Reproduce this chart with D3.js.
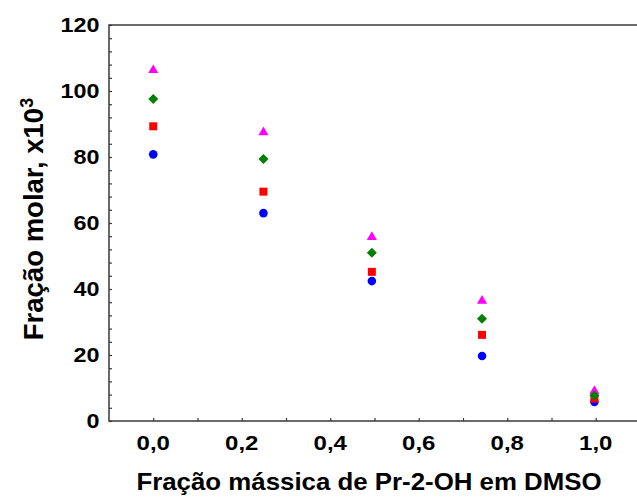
<!DOCTYPE html>
<html><head><meta charset="utf-8">
<script src="https://cdn.jsdelivr.net/npm/d3@7"></script>
<style>body{margin:0;background:#fff}svg{display:block}text{font-family:"Liberation Sans",Arial,sans-serif;font-weight:bold;fill:#000}</style>
</head><body><svg id="c" width="637" height="500"></svg>
<script>
const xValues = [0, 0.249, 0.494, 0.743, 0.997];
const seriesCircle = [80.8, 63.0, 42.4, 19.7, 5.8];
const seriesSquare = [89.3, 69.5, 45.2, 26.1, 6.8];
const seriesDiamond = [97.6, 79.4, 51.0, 31.0, 7.7];
const seriesTriangle = [106.3, 87.5, 55.7, 36.4, 9.1];
const xTickLabels = [0, 0.2, 0.4, 0.6, 0.8, 1.0];
const yTickLabels = [0, 20, 40, 60, 80, 100, 120];

const svg = d3.select("#c");
const x = d3.scaleLinear().domain([-0.1, 1.1]).range([109, 640]);
const y = d3.scaleLinear().domain([0, 120]).range([421, 25]);

// frame
svg.append("rect").attr("x", x(-0.1)).attr("y", y(120)).attr("width", x(1.1) - x(-0.1)).attr("height", y(0) - y(120))
  .attr("fill", "none").attr("stroke", "#3a3a3a").attr("stroke-width", 1.5);

// ticks
const xt = d3.range(0, 11).map(i => i / 10);
svg.append("g").attr("transform", `translate(0,${y(0)})`)
  .call(d3.axisBottom(x).tickValues(xt).tickSize(-3).tickFormat(""))
  .call(g => { g.select(".domain").remove(); g.selectAll("line").attr("stroke", "#3a3a3a").attr("stroke-width", 1.2); });
const yt = d3.range(0, 31).map(i => i * 4);
svg.append("g").attr("transform", `translate(${x(-0.1)},0)`)
  .call(d3.axisLeft(y).tickValues(yt).tickSize(-3).tickFormat(""))
  .call(g => { g.select(".domain").remove(); g.selectAll("line").attr("stroke", "#3a3a3a").attr("stroke-width", 1.2); });

const fmt = v => d3.format(".1f")(v).replace(".", ",");
// x tick labels
svg.append("g").selectAll("text").data(xTickLabels).join("text")
  .attr("transform", d => `translate(${x(d)},450) scale(1.2,1)`)
  .attr("text-anchor", "middle").attr("font-size", 20).text(fmt);
// y tick labels
svg.append("g").selectAll("text").data(yTickLabels).join("text")
  .attr("transform", d => `translate(99.5,${y(d) + 7}) scale(1.14,1)`)
  .attr("text-anchor", "end").attr("font-size", 20.5).text(d => d);

// axis titles
svg.append("text").attr("transform", "translate(369,490) scale(1.1,1)").attr("text-anchor", "middle")
  .attr("font-size", 23.5).text("Fração mássica de Pr-2-OH em DMSO");
const yt2 = svg.append("text").attr("transform", "translate(43,219) rotate(-90)").attr("text-anchor", "middle")
  .attr("font-size", 27.5);
yt2.append("tspan").text("Fração molar, x10");
yt2.append("tspan").attr("dy", -10).attr("font-size", 18).text("3");

// markers
const series = [
  {vals: seriesCircle, color: "#0000ff", type: d3.symbolCircle, size: 58, rot: 0},
  {vals: seriesSquare, color: "#ff0000", type: d3.symbolSquare, size: 64, rot: 0},
  {vals: seriesTriangle, color: "#ff00ff", type: d3.symbolTriangle, size: 44, rot: 0},
  {vals: seriesDiamond, color: "#008000", type: d3.symbolSquare, size: 50, rot: 45}
];
series.forEach(s => {
  svg.append("g").selectAll("path").data(s.vals).join("path")
    .attr("d", d3.symbol().type(s.type).size(s.size))
    .attr("transform", (d, i) => `translate(${x(xValues[i])},${y(d)}) rotate(${s.rot})`)
    .attr("fill", s.color);
});
</script></body></html>
